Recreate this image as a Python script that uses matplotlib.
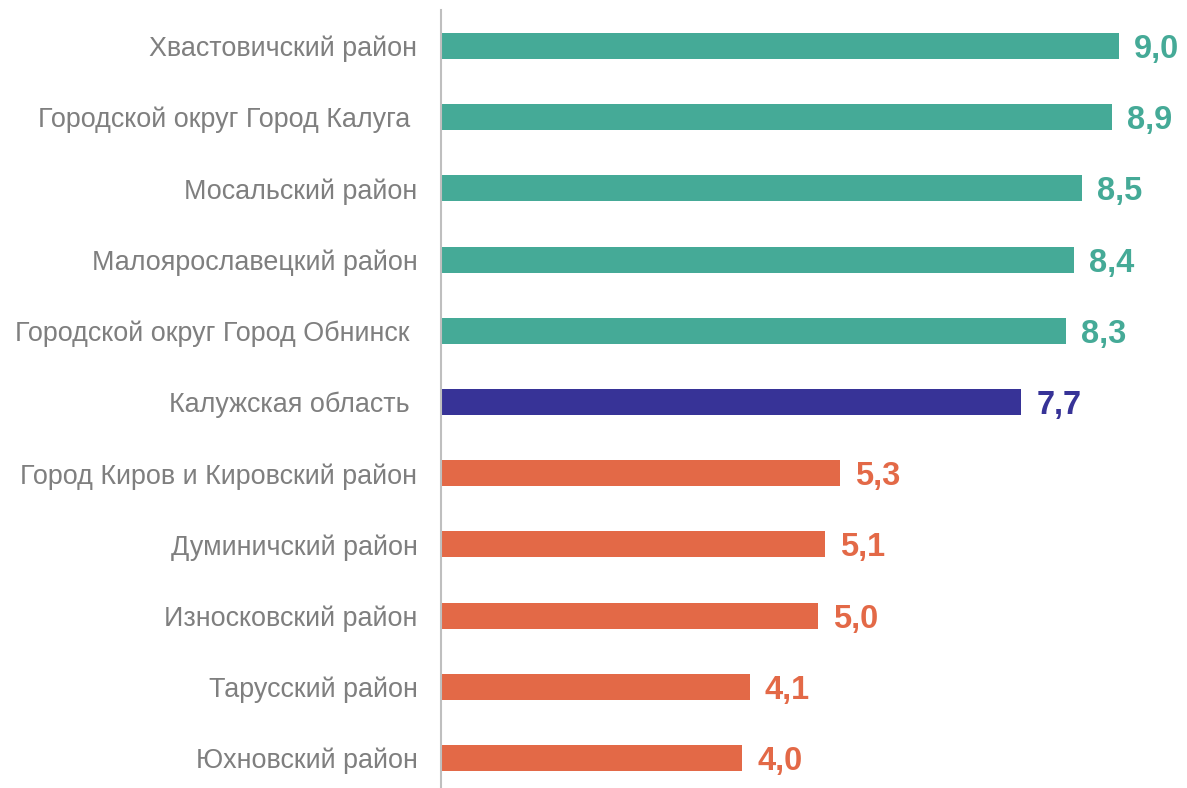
import matplotlib
matplotlib.use("Agg")
import matplotlib.pyplot as plt

categories = [
    "Хвастовичский район",
    "Городской округ Город Калуга ",
    "Мосальский район",
    "Малоярославецкий район",
    "Городской округ Город Обнинск ",
    "Калужская область ",
    "Город Киров и Кировский район",
    "Думиничский район",
    "Износковский район",
    "Тарусский район",
    "Юхновский район",
]
values = [9.0, 8.9, 8.5, 8.4, 8.3, 7.7, 5.3, 5.1, 5.0, 4.1, 4.0]
groups = ["high"] * 5 + ["region"] + ["low"] * 5
palette = {"high": "#45AA97", "region": "#373397", "low": "#E36947"}

plt.rcParams['font.family'] = ['Liberation Sans', 'DejaVu Sans']

fig = plt.figure(figsize=(11.87, 7.88), dpi=100)
ax = fig.add_axes([441 / 1187, 0.0, 1 - 441 / 1187, 1 - 10 / 788])

ys = list(range(len(categories)))
colors = [palette[g] for g in groups]
ax.barh(ys, values, height=0.365, color=colors, zorder=2)

for y, v, c in zip(ys, values, colors):
    ax.annotate(f"{v:.1f}".replace(".", ","), xy=(v, y), xytext=(15, -12),
                textcoords="offset pixels", va="baseline", ha="left",
                fontsize=23.5, fontweight="bold", color=c)

ax.set_xlim(0, 9.9)
ax.set_ylim(10.42, -0.506)
ax.set_yticks(ys)
ax.set_yticklabels(categories, fontsize=19.4, color="#7F7F7F")
ax.tick_params(axis="y", length=0, pad=17)
ax.set_xticks([])
for s in ["top", "right", "bottom"]:
    ax.spines[s].set_visible(False)
ax.spines["left"].set_color("#BFBFBF")
ax.spines["left"].set_linewidth(1.5)
ax.set_facecolor("none")

fig.savefig("out.png", dpi=100)
